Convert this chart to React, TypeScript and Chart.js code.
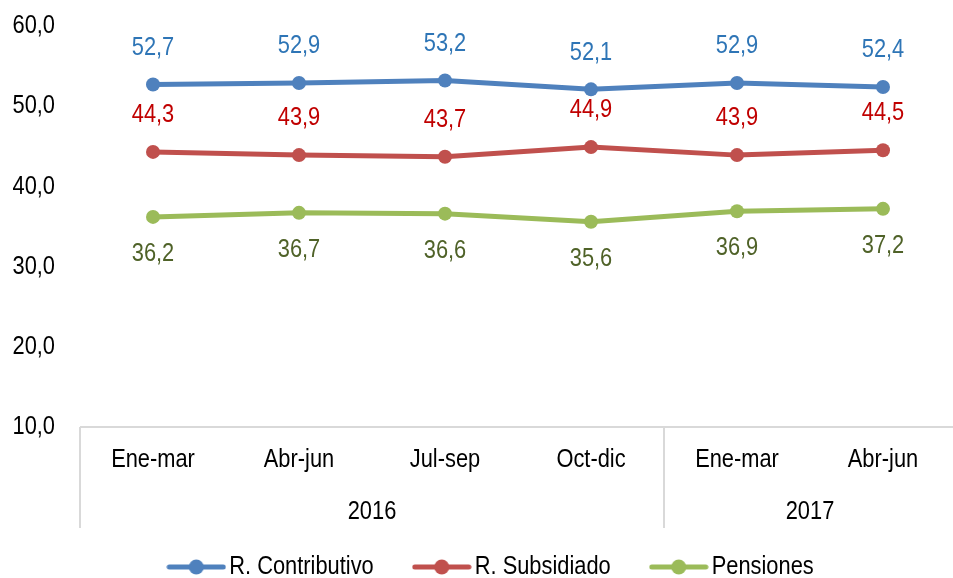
import React, { useEffect, useRef } from "react";
import { Chart, registerables } from "chart.js";

Chart.register(...registerables);

const quarters = ["Ene-mar", "Abr-jun", "Jul-sep", "Oct-dic", "Ene-mar", "Abr-jun"];
const years = ["2016", "2017"];
const yearSpans = [4, 2];
const contributivo = [52.7, 52.9, 53.2, 52.1, 52.9, 52.4];
const subsidiado = [44.3, 43.9, 43.7, 44.9, 43.9, 44.5];
const pensiones = [36.2, 36.7, 36.6, 35.6, 36.9, 37.2];
const seriesNames = ["R. Contributivo", "R. Subsidiado", "Pensiones"];
const yTicks = [10, 20, 30, 40, 50, 60];

const FONT = "'Liberation Sans', Arial, sans-serif";
const FS = 26;
const NARROW = 0.84;
const fmt = (v: number) => v.toFixed(1).replace(".", ",");

function legendMarker(color: string): HTMLCanvasElement {
  const c = document.createElement("canvas");
  c.width = 60;
  c.height = 18;
  const ctx = c.getContext("2d")!;
  ctx.strokeStyle = color;
  ctx.lineWidth = 5;
  ctx.lineCap = "round";
  ctx.beginPath();
  ctx.moveTo(3, 9);
  ctx.lineTo(57, 9);
  ctx.stroke();
  ctx.fillStyle = color;
  ctx.beginPath();
  ctx.arc(30, 9, 7.5, 0, Math.PI * 2);
  ctx.fill();
  return c;
}

// Emulate a narrow (Arial Narrow-like) face by compressing text horizontally.
function narrowContext(ctx: CanvasRenderingContext2D) {
  const anyCtx = ctx as any;
  if (anyCtx.__narrowed) return;
  anyCtx.__narrowed = true;
  const origFill = ctx.fillText.bind(ctx);
  const origMeasure = ctx.measureText.bind(ctx);
  anyCtx.fillText = (text: string, x: number, y: number, maxWidth?: number) => {
    ctx.save();
    ctx.translate(x, y);
    ctx.scale(NARROW, 1);
    if (maxWidth !== undefined) origFill(text, 0, 0, maxWidth / NARROW);
    else origFill(text, 0, 0);
    ctx.restore();
  };
  anyCtx.measureText = (text: string) => {
    const m = origMeasure(text);
    return {
      width: m.width * NARROW,
      actualBoundingBoxAscent: m.actualBoundingBoxAscent,
      actualBoundingBoxDescent: m.actualBoundingBoxDescent,
      actualBoundingBoxLeft: m.actualBoundingBoxLeft * NARROW,
      actualBoundingBoxRight: m.actualBoundingBoxRight * NARROW,
      fontBoundingBoxAscent: m.fontBoundingBoxAscent,
      fontBoundingBoxDescent: m.fontBoundingBoxDescent,
    };
  };
}

export default function App() {
  const ref = useRef<HTMLCanvasElement | null>(null);

  useEffect(() => {
    if (!ref.current) return;
    const ctx2d = ref.current.getContext("2d")!;
    narrowContext(ctx2d);
    const lineColors = ["#4F81BD", "#C0504D", "#9BBB59"];
    const labelColors = ["#2E75B6", "#C00000", "#4F6228"];
    const labelOffsets = [-37, -37, 37];
    const values = [contributivo, subsidiado, pensiones];
    const markers = lineColors.map(legendMarker);

    const overlay = {
      id: "overlay",
      afterUpdate(chart: any) {
        if (chart.legend) {
          chart.legend.left += 17;
          chart.legend.right += 17;
        }
      },
      afterDatasetsDraw(chart: any) {
        const ctx = chart.ctx;
        const { chartArea } = chart;
        const xs = chart.scales.x;
        const step = xs.getPixelForValue(1) - xs.getPixelForValue(0);
        const leftEdge = xs.getPixelForValue(0) - step / 2;
        ctx.save();
        ctx.strokeStyle = "#D9D9D9";
        ctx.lineWidth = 2;
        ctx.beginPath();
        ctx.moveTo(chartArea.left, chartArea.bottom);
        ctx.lineTo(chartArea.right + 10, chartArea.bottom);
        ctx.stroke();
        let idx = 0;
        const bounds = [leftEdge];
        yearSpans.forEach((s) => {
          idx += s;
          bounds.push(leftEdge + idx * step);
        });
        ctx.beginPath();
        bounds.forEach((b) => {
          ctx.moveTo(b, chartArea.bottom);
          ctx.lineTo(b, chartArea.bottom + 101);
        });
        ctx.stroke();
        ctx.fillStyle = "#000";
        ctx.font = `${FS}px ${FONT}`;
        ctx.textAlign = "center";
        ctx.textBaseline = "middle";
        years.forEach((y, i) => {
          ctx.fillText(y, (bounds[i] + bounds[i + 1]) / 2, chartArea.bottom + 85);
        });
        chart.data.datasets.forEach((ds: any, di: number) => {
          const meta = chart.getDatasetMeta(di);
          ctx.fillStyle = labelColors[di];
          meta.data.forEach((pt: any, i: number) => {
            ctx.fillText(fmt(ds.data[i]), pt.x, pt.y + labelOffsets[di]);
          });
        });
        ctx.restore();
      },
    };

    const chart = new Chart(ctx2d, {
      type: "line",
      data: {
        labels: quarters,
        datasets: values.map((v, i) => ({
          label: seriesNames[i],
          data: v,
          borderColor: lineColors[i],
          backgroundColor: lineColors[i],
          borderWidth: 5,
          pointRadius: 7,
          pointBackgroundColor: lineColors[i],
          pointBorderWidth: 0,
          tension: 0,
        })),
      },
      options: {
        animation: false,
        responsive: false,
        maintainAspectRatio: false,
        layout: { autoPadding: false, padding: { top: 26, right: 4, left: 0, bottom: 0 } },
        scales: {
          x: {
            type: "category",
            offset: true,
            grid: { display: false, drawTicks: false },
            border: { display: false },
            ticks: {
              color: "#000",
              font: { family: FONT, size: FS },
              padding: 17,
              maxRotation: 0,
              autoSkip: false,
            },
            afterFit: (s: any) => {
              s.height = 79;
            },
          },
          y: {
            min: 10,
            max: 60,
            afterBuildTicks: (s: any) => {
              s.ticks = yTicks.map((v) => ({ value: v }));
            },
            grid: { display: false, drawTicks: false },
            border: { display: false },
            ticks: {
              color: "#000",
              font: { family: FONT, size: FS },
              padding: 25,
              callback: (v: any) => fmt(Number(v)),
            },
            afterFit: (s: any) => {
              s.width = 80;
              s.paddingTop = 13;
              s.paddingBottom = 13;
            },
          },
        },
        plugins: {
          legend: {
            position: "bottom",
            labels: {
              usePointStyle: true,
              pointStyleWidth: 40,
              padding: 48,
              color: "#000",
              font: { family: FONT, size: FS },
              generateLabels: (chart: any) =>
                chart.data.datasets.map((ds: any, i: number) => ({
                  text: ds.label,
                  pointStyle: markers[i],
                  fillStyle: lineColors[i],
                  strokeStyle: lineColors[i],
                  lineWidth: 0,
                  hidden: false,
                  datasetIndex: i,
                  fontColor: "#000",
                })),
            },
          },
          tooltip: { enabled: false },
        },
      },
      plugins: [overlay],
    });
    return () => chart.destroy();
  }, []);

  return (
    <div style={{ position: "absolute", left: 0, top: 0, width: 953, height: 578, overflow: "hidden", background: "#fff" }}>
      <canvas ref={ref} width={960} height={590} style={{ display: "block" }} />
    </div>
  );
}
